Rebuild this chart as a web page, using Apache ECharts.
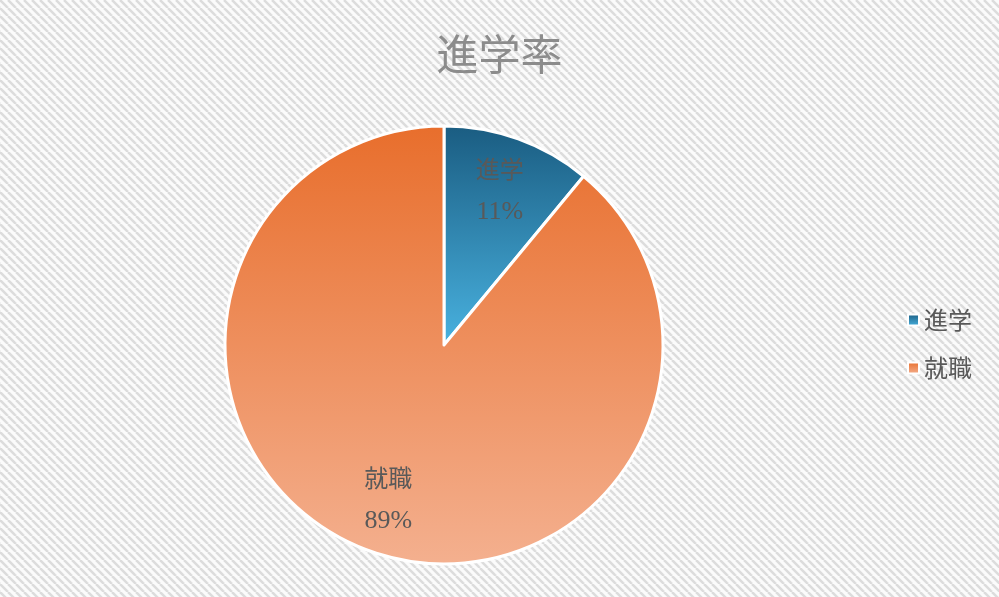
<!DOCTYPE html>
<html>
<head>
    <meta charset="utf-8">
    <title>進学率</title>
    <script src="https://cdn.jsdelivr.net/npm/echarts@6/dist/echarts.min.js"></script>
    <style>
        html, body { margin: 0; padding: 0; }
        #main { width: 999px; height: 597px; }
    </style>
</head>
<body>
<div id="main"></div>
<script type="text/javascript">
    var titleText = '進学率';
    var categories = ['進学', '就職'];
    var values = [11, 89];

    // diagonal hatch background
    function makeHatch() {
        var c = document.createElement('canvas');
        c.width = 8;
        c.height = 8;
        var ctx = c.getContext('2d');
        ctx.fillStyle = '#fbfbfb';
        ctx.fillRect(0, 0, 8, 8);
        ctx.strokeStyle = '#dcdcdc';
        ctx.lineWidth = 2.5;
        for (var k = -8; k <= 8; k += 8) {
            ctx.beginPath();
            ctx.moveTo(k, 0);
            ctx.lineTo(k + 8, 8);
            ctx.stroke();
        }
        return c;
    }

    var sliceColors = [
        new echarts.graphic.LinearGradient(0, 0, 0, 1, [
            {offset: 0, color: '#1a5c81'},
            {offset: 1, color: '#49b2e0'}
        ]),
        new echarts.graphic.LinearGradient(0, 0, 0, 1, [
            {offset: 0, color: '#e86e2c'},
            {offset: 1, color: '#f4b08f'}
        ])
    ];

    var pieData = categories.map(function (name, i) {
        return {name: name, value: values[i], itemStyle: {color: sliceColors[i]}};
    });
    var labelData = categories.map(function (name, i) {
        return {name: name, value: values[i]};
    });

    var myChart = echarts.init(document.getElementById('main'));
    var option = {
        backgroundColor: {image: makeHatch(), repeat: 'repeat'},
        animation: false,
        title: {
            text: titleText,
            left: 'center',
            top: 28,
            textStyle: {
                color: '#8c8c8c',
                fontSize: 42,
                fontWeight: 'normal',
                fontFamily: 'Noto Sans CJK JP'
            }
        },
        legend: {
            orient: 'vertical',
            left: 902,
            top: 303,
            icon: 'rect',
            itemWidth: 11,
            itemHeight: 11,
            itemGap: 24,
            data: categories,
            textStyle: {
                color: '#595959',
                fontSize: 24,
                fontFamily: 'Noto Sans CJK JP'
            }
        },
        series: [
            {
                name: titleText,
                type: 'pie',
                center: [444, 345],
                radius: 219,
                startAngle: 90,
                clockwise: true,
                silent: true,
                itemStyle: {borderColor: '#ffffff', borderWidth: 3},
                label: {show: false},
                labelLine: {show: false},
                data: pieData
            },
            {
                name: 'labels',
                type: 'pie',
                center: [444, 345],
                radius: [104, 219],
                startAngle: 90,
                clockwise: true,
                silent: true,
                itemStyle: {color: 'rgba(0,0,0,0)', borderWidth: 0},
                label: {
                    show: true,
                    position: 'inside',
                    color: '#595959',
                    fontFamily: 'Liberation Serif, Noto Sans CJK JP',
                    formatter: function (p) {
                        return '{n|' + p.name + '}\n{p|' + Math.round(p.percent) + '%}';
                    },
                    rich: {
                        n: {fontSize: 24, lineHeight: 43, color: '#595959', fontFamily: 'Noto Sans CJK JP'},
                        p: {fontSize: 26, lineHeight: 43, color: '#595959', fontFamily: 'Liberation Serif'}
                    }
                },
                labelLine: {show: false},
                data: labelData
            }
        ]
    };
    myChart.setOption(option);
</script>
</body>
</html>
